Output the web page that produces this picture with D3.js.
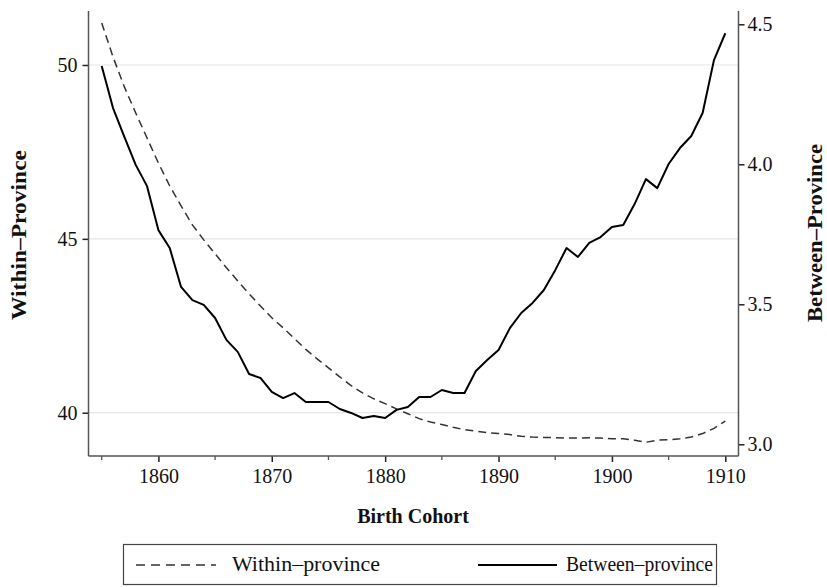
<!DOCTYPE html>
<html>
<head>
<meta charset="utf-8">
<script src="https://cdn.jsdelivr.net/npm/d3@7"></script>
<style>
  html, body { margin: 0; padding: 0; background: #fff; }
  svg { display: block; }
  text { font-family: "Liberation Serif", "DejaVu Serif", serif; fill: #111; }
</style>
</head>
<body>
<svg id="chart" width="827" height="587"></svg>
<script>
// ---------- data ----------
const years = [1855,1856,1857,1858,1859,1860,1861,1862,1863,1864,1865,1866,1867,1868,1869,
  1870,1871,1872,1873,1874,1875,1876,1877,1878,1879,1880,1881,1882,1883,1884,1885,1886,1887,
  1888,1889,1890,1891,1892,1893,1894,1895,1896,1897,1898,1899,1900,1901,1902,1903,1904,1905,
  1906,1907,1908,1909,1910];

const withinProvince = [51.21,50.23,49.37,48.62,47.90,47.18,46.52,45.95,45.40,44.97,44.57,44.17,
  43.79,43.42,43.07,42.73,42.44,42.13,41.82,41.55,41.29,41.03,40.78,40.57,40.40,40.26,40.11,
  39.97,39.83,39.73,39.66,39.58,39.51,39.47,39.43,39.40,39.37,39.32,39.30,39.29,39.28,39.27,
  39.27,39.28,39.27,39.25,39.25,39.21,39.15,39.21,39.22,39.25,39.30,39.40,39.55,39.76];

const betweenProvince = [4.351,4.201,4.098,3.998,3.922,3.765,3.701,3.562,3.515,3.498,3.451,3.373,
  3.330,3.251,3.237,3.187,3.165,3.183,3.151,3.151,3.151,3.126,3.112,3.094,3.101,3.094,3.123,
  3.133,3.169,3.169,3.194,3.183,3.183,3.262,3.301,3.337,3.415,3.469,3.505,3.551,3.622,3.701,
  3.669,3.719,3.740,3.776,3.783,3.858,3.947,3.915,4.001,4.058,4.101,4.183,4.372,4.468];

const xMajorTicks = [1860,1870,1880,1890,1900,1910];
const xMinorTicks = [1855,1865,1875,1885,1895,1905];
const leftTicks = [40,45,50];
const rightTicks = [3.0,3.5,4.0,4.5];
const leftTitle = "Within\u2013Province";
const rightTitle = "Between\u2013Province";
const xTitle = "Birth Cohort";
const legendLabels = ["Within\u2013province", "Between\u2013province"];

// ---------- layout ----------
const plot = { left: 88.5, right: 738.5, top: 11, bottom: 456 };
const svg = d3.select("#chart");

const x = d3.scaleLinear().domain([1855, 1910]).range([101.7, 725.3]);
const yL = d3.scaleLinear().domain([40, 50]).range([412.7, 65]);
const yR = d3.scaleLinear().domain([3.0, 4.5]).range([444.3, 24.3]);

const axisColor = "#555";

// gridlines
svg.append("g").selectAll("line").data(leftTicks).join("line")
  .attr("x1", plot.left).attr("x2", plot.right)
  .attr("y1", d => yL(d)).attr("y2", d => yL(d))
  .attr("stroke", "#e6e6e6").attr("stroke-width", 1.2);

// lines
const lineW = d3.line().x((d, i) => x(years[i])).y(d => yL(d));
const lineB = d3.line().x((d, i) => x(years[i])).y(d => yR(d));

svg.append("path").datum(withinProvince).attr("d", lineW)
  .attr("fill", "none").attr("stroke", "#333").attr("stroke-width", 1.5)
  .attr("stroke-dasharray", "8,5");
svg.append("path").datum(betweenProvince).attr("d", lineB)
  .attr("fill", "none").attr("stroke", "#000").attr("stroke-width", 2)
  .attr("stroke-linejoin", "round");

// left axis
const gL = svg.append("g").attr("transform", `translate(${plot.left},0)`)
  .call(d3.axisLeft(yL).tickValues(leftTicks).tickSize(6).tickPadding(5).tickFormat(d3.format("d")));
gL.select(".domain").remove();
gL.append("line").attr("y1", plot.top).attr("y2", plot.bottom).attr("stroke", axisColor).attr("stroke-width", 1.5);

// right axis
const gR = svg.append("g").attr("transform", `translate(${plot.right},0)`)
  .call(d3.axisRight(yR).tickValues(rightTicks).tickSize(6).tickPadding(3).tickFormat(d3.format(".1f")));
gR.select(".domain").remove();
gR.append("line").attr("y1", plot.top).attr("y2", plot.bottom).attr("stroke", axisColor).attr("stroke-width", 1.5);

// bottom axis
const gB = svg.append("g").attr("transform", `translate(0,${plot.bottom})`)
  .call(d3.axisBottom(x).tickValues(xMajorTicks).tickSize(6).tickPadding(7).tickFormat(d3.format("d")));
gB.select(".domain").remove();
gB.append("line").attr("x1", plot.left).attr("x2", plot.right).attr("stroke", axisColor).attr("stroke-width", 1.5);
svg.append("g").attr("transform", `translate(0,${plot.bottom})`)
  .selectAll("line").data(xMinorTicks).join("line")
  .attr("x1", d => x(d)).attr("x2", d => x(d)).attr("y1", 0).attr("y2", 4)
  .attr("stroke", axisColor).attr("stroke-width", 1.3);

svg.selectAll(".tick line").attr("stroke", "#222").attr("stroke-width", 1.5);
svg.selectAll(".tick text").style("font-family", "'Liberation Serif', serif").style("font-size", "20px").attr("fill", "#222");

// titles
svg.append("text").attr("transform", "translate(19,235) rotate(-90)")
  .attr("text-anchor", "middle").attr("dominant-baseline", "central")
  .attr("textLength", 170).attr("lengthAdjust", "spacingAndGlyphs")
  .style("font-weight", "bold").style("font-size", "21px").text(leftTitle);
svg.append("text").attr("transform", "translate(815,233) rotate(-90)")
  .attr("text-anchor", "middle").attr("dominant-baseline", "central")
  .attr("textLength", 178).attr("lengthAdjust", "spacingAndGlyphs")
  .style("font-weight", "bold").style("font-size", "21px").text(rightTitle);
svg.append("text").attr("x", 413).attr("y", 523)
  .attr("text-anchor", "middle")
  .style("font-weight", "bold").style("font-size", "20px").text(xTitle);

// legend
const lg = svg.append("g");
lg.append("rect").attr("x", 123.5).attr("y", 544.5).attr("width", 593).attr("height", 40)
  .attr("fill", "none").attr("stroke", "#444").attr("stroke-width", 1.2);
lg.append("line").attr("x1", 136).attr("x2", 216).attr("y1", 565).attr("y2", 565)
  .attr("stroke", "#333").attr("stroke-width", 1.5).attr("stroke-dasharray", "9,6");
lg.append("text").attr("x", 232).attr("y", 571).style("font-size", "20px")
  .attr("textLength", 148).attr("lengthAdjust", "spacingAndGlyphs").text(legendLabels[0]);
lg.append("line").attr("x1", 478).attr("x2", 557).attr("y1", 565).attr("y2", 565)
  .attr("stroke", "#000").attr("stroke-width", 2);
lg.append("text").attr("x", 566).attr("y", 571).style("font-size", "20px")
  .attr("textLength", 147).attr("lengthAdjust", "spacingAndGlyphs").text(legendLabels[1]);
</script>
</body>
</html>
